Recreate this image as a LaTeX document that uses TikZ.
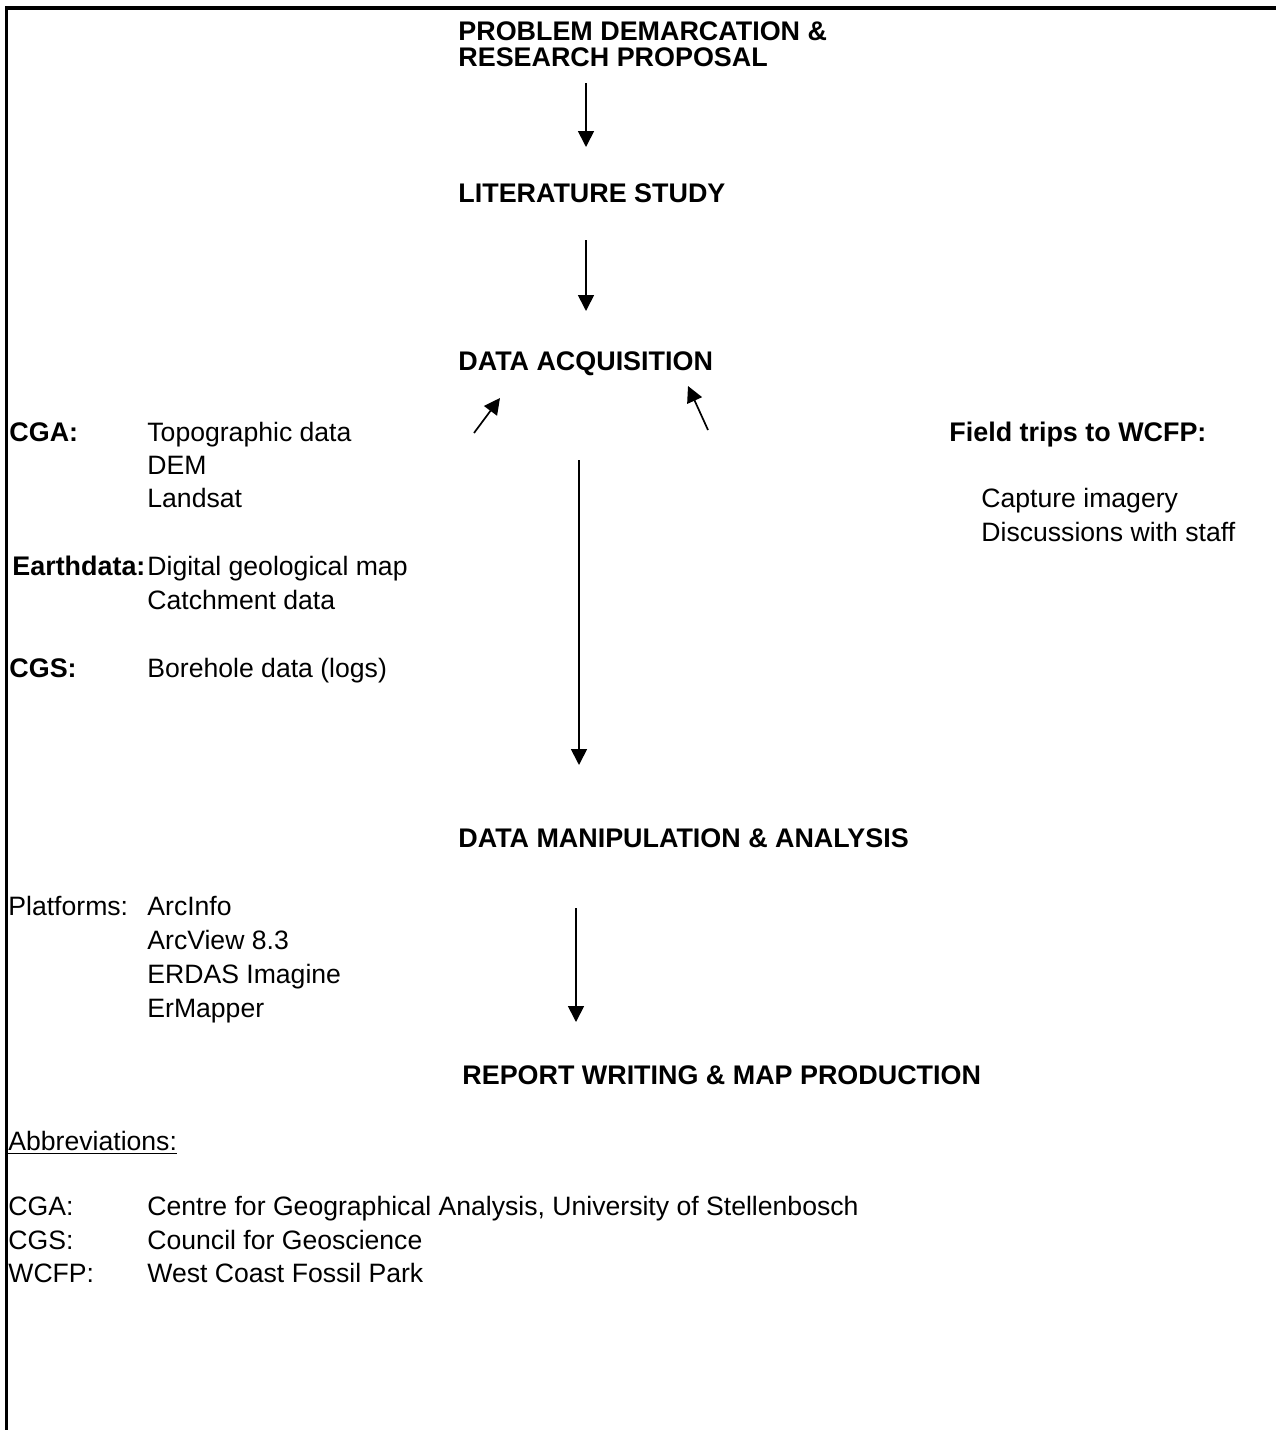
\documentclass[tikz,border=0pt]{standalone}
\usepackage{fontspec}
\setmainfont{Liberation Sans}
\usetikzlibrary{arrows.meta}

\begin{document}
\begin{tikzpicture}[x=0.5pt, y=-0.5pt,
  every node/.style={inner sep=0pt, anchor=base west, font=\fontsize{13.3}{14.5}\selectfont},
  stage/.style={font=\fontsize{13.45}{13}\selectfont\bfseries},
  arr/.style={line width=0.85pt, -{Triangle[length=8pt, width=8pt]}}]
  \useasboundingbox (0,0) rectangle (1276,1430);
  \draw[line width=1.6pt] (6.7,1430) -- (6.7,8) -- (1276,8);

  % stages
  \node[stage, align=left] (prob) at (458,66) {PROBLEM DEMARCATION \&\\RESEARCH PROPOSAL};
  \node[stage] (lit) at (458,202) {LITERATURE STUDY};
  \node[stage] (acq) at (458,370) {DATA ACQUISITION};
  \node[stage] (manip) at (458,847) {DATA MANIPULATION \& ANALYSIS};
  \node[stage] (report) at (462,1084) {REPORT WRITING \& MAP PRODUCTION};

  % data sources
  \node[stage] (cga) at (9,441) {CGA:};
  \node (cga1) at (147,441) {Topographic data};
  \node (cga2) at (147,474) {DEM};
  \node (cga3) at (147,507) {Landsat};
  \node[stage] (earth) at (12,575) {Earthdata:};
  \node (earth1) at (147,575) {Digital geological map};
  \node (earth2) at (147,609) {Catchment data};
  \node[stage] (cgs) at (9,677) {CGS:};
  \node (cgs1) at (147,677) {Borehole data (logs)};
  \node[stage] (field) at (949,441) {Field trips to WCFP:};
  \node (field1) at (981,507) {Capture imagery};
  \node (field2) at (981,541) {Discussions with staff};

  % platforms
  \node (plat) at (8,915) {Platforms:};
  \node (plat1) at (147,915) {ArcInfo};
  \node (plat2) at (147,949) {ArcView 8.3};
  \node (plat3) at (147,983) {ERDAS Imagine};
  \node (plat4) at (147,1017) {ErMapper};

  % abbreviations
  \node (abbr) at (8,1150) {\underline{Abbreviations:}};
  \node (ab1) at (8,1215) {CGA:};
  \node (ab1t) at (147,1215) {Centre for Geographical Analysis, University of Stellenbosch};
  \node (ab2) at (8,1249) {CGS:};
  \node (ab2t) at (147,1249) {Council for Geoscience};
  \node (ab3) at (8,1282) {WCFP:};
  \node (ab3t) at (147,1282) {West Coast Fossil Park};

  % arrow ends
  \coordinate (a1s) at (586,83);   \coordinate (a1e) at (586,147);
  \coordinate (a2s) at (586,240);  \coordinate (a2e) at (586,311);
  \coordinate (a3s) at (474,433);  \coordinate (a3e) at (500,398);
  \coordinate (a4s) at (708,430);  \coordinate (a4e) at (688,386);
  \coordinate (a5s) at (579,460);  \coordinate (a5e) at (579,765);
  \coordinate (a6s) at (576,908);  \coordinate (a6e) at (576,1022);

  \draw[arr] (a1s) -- (a1e);
  \draw[arr] (a2s) -- (a2e);
  \draw[arr] (a3s) -- (a3e);
  \draw[arr] (a4s) -- (a4e);
  \draw[arr] (a5s) -- (a5e);
  \draw[arr] (a6s) -- (a6e);
\end{tikzpicture}
\end{document}
